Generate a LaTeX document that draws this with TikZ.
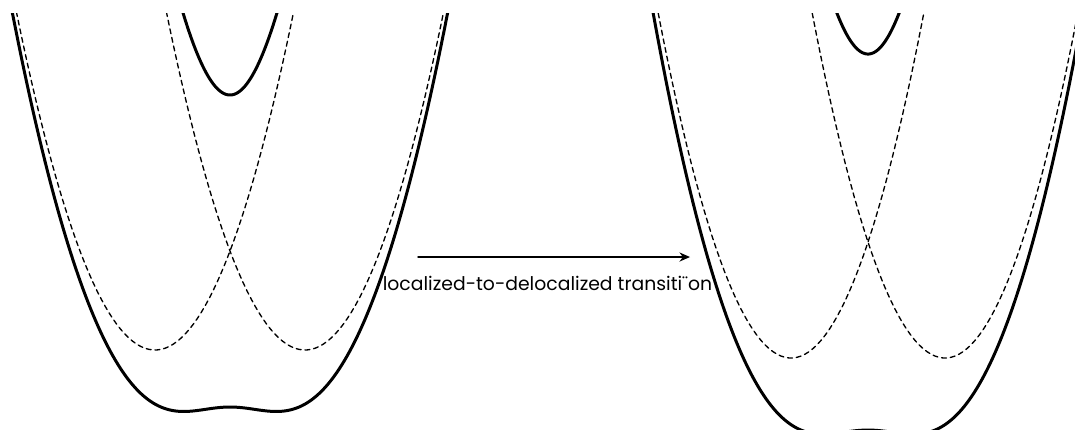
\documentclass[tikz,border=0pt]{standalone}
\usepackage{fontspec}
\setmainfont{Poppins}
\usetikzlibrary{arrows.meta,calc}
\begin{document}
\begin{tikzpicture}[
    x=1cm,
    y=-1cm,
    line join=round,
    line cap=round,
    adiabat/.style={line width=0.85pt},
    diabat/.style={line width=0.38pt, dash pattern=on 1.4pt off 1.1pt},
]
    \useasboundingbox (0,0) rectangle (10.75,4.29);

    % 两组势能曲线: 中心, 谷底, 曲率, 半间距, 耦合
    \begin{scope}
    \clip (0,0.13) rectangle (10.75,4.29);
    \foreach \cx/\yz/\A/\D/\G in {2.30/3.50/1.76/0.75/1.56, 8.68/3.58/1.956/0.77/1.88}{
        % 非绝热曲线
        \draw[diabat] plot[domain={-\D-1.6}:{-\D+1.6}, samples=80]
            ({\cx+\x}, {\yz-\A*(\x+\D)*(\x+\D)});
        \draw[diabat] plot[domain={\D-1.6}:{\D+1.6}, samples=80]
            ({\cx+\x}, {\yz-\A*(\x-\D)*(\x-\D)});
        % 绝热曲线 (下)
        \draw[adiabat] plot[domain=-2.5:2.5, samples=200]
            ({\cx+\x}, {\yz-\A*(\x*\x+\D*\D)+sqrt((2*\A*\D*\x)*(2*\A*\D*\x)+\G*\G)});
        % 绝热曲线 (上)
        \draw[adiabat] plot[domain=-0.7:0.7, samples=80]
            ({\cx+\x}, {\yz-\A*(\x*\x+\D*\D)-sqrt((2*\A*\D*\x)*(2*\A*\D*\x)+\G*\G)});
    }
    \end{scope}

    % 箭头
    \coordinate (from) at (4.18,2.57);
    \coordinate (to) at (6.90,2.57);
    \draw[line width=0.4pt, -{Stealth[length=3pt,width=2.6pt]}] (from) -- (to);
    \node[below, inner sep=1pt, font=\fontsize{5.35}{6.4}\selectfont] (transition)
        at ($(from)!0.5!(to)+(-0.065,0.15)$) {localized-to-delocalized transiti¨on};

\end{tikzpicture}
\end{document}
